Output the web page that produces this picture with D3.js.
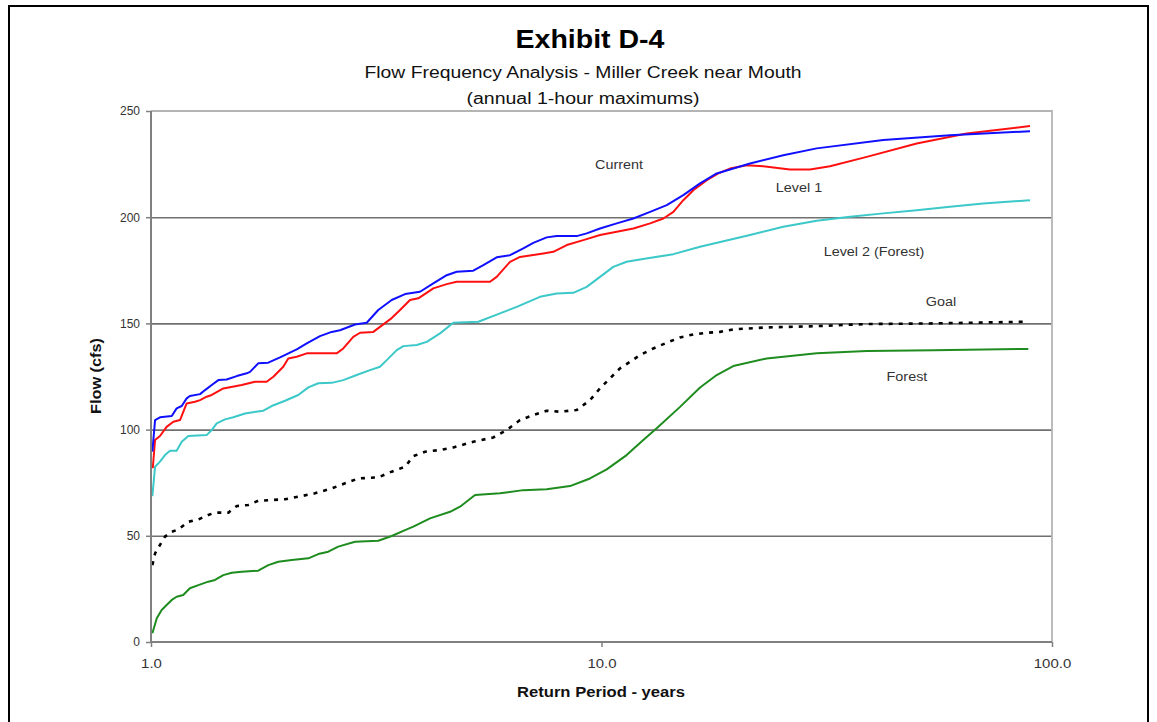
<!DOCTYPE html>
<html>
<head>
<meta charset="utf-8">
<script src="https://cdn.jsdelivr.net/npm/d3@7"></script>
<style>
    body { margin: 0; background: #fff; }
    svg { display: block; font-family: "Liberation Sans", Arial, sans-serif; }
</style>
</head>
<body>
<div id="chart"></div>
<script>
// Flow frequency data (return period in years, flow in cfs)
const currentT = [1.007, 1.021, 1.047, 1.112, 1.140, 1.170, 1.200, 1.220, 1.285, 1.318, 1.364, 1.411, 1.472, 1.550, 1.631, 1.659, 1.730, 1.821, 1.934, 2.106, 2.217, 2.372, 2.518, 2.627, 2.837, 3.012, 3.195, 3.422, 3.664, 3.955, 4.233, 4.533, 4.771, 5.193, 5.466, 5.853, 6.265, 6.706, 7.057, 7.555, 7.951, 8.810, 9.271, 9.924, 10.81, 11.77, 12.82, 13.96, 15.19, 16.55, 18.02, 21.36, 25.32, 30.04, 42.22, 59.38, 89.37];
const currentQ = [89.6, 104.5, 105.8, 106.4, 110.0, 111.1, 114.7, 115.8, 116.7, 118.6, 121.0, 123.3, 123.6, 125.2, 126.5, 127.2, 131.2, 131.5, 134.0, 137.8, 140.6, 144.0, 146.0, 146.8, 149.5, 150.3, 156.3, 161.0, 163.8, 164.9, 168.8, 172.7, 174.3, 174.8, 177.4, 181.1, 182.1, 185.3, 187.9, 190.5, 191.1, 191.1, 192.4, 194.7, 197.1, 199.4, 202.5, 205.7, 210.4, 215.9, 220.6, 225.3, 229.2, 232.4, 236.3, 238.6, 240.5];

const level1T = [1.009, 1.021, 1.047, 1.083, 1.121, 1.160, 1.200, 1.252, 1.285, 1.329, 1.364, 1.447, 1.590, 1.701, 1.806, 1.869, 1.966, 2.017, 2.106, 2.217, 2.583, 2.672, 2.812, 2.911, 3.115, 3.422, 3.571, 3.758, 3.921, 4.233, 4.533, 4.771, 5.656, 5.853, 6.265, 6.594, 7.425, 7.817, 8.373, 9.113, 9.924, 10.81, 11.77, 12.82, 13.72, 14.44, 15.19, 15.99, 17.13, 18.17, 19.28, 21.00, 22.86, 26.20, 29.03, 32.16, 38.80, 50.08, 64.67, 89.37];
const level1Q = [81.8, 95.1, 97.0, 101.3, 103.7, 104.5, 112.3, 113.1, 113.9, 115.5, 116.3, 119.4, 121.0, 122.5, 122.5, 124.9, 129.6, 133.5, 134.3, 135.9, 135.9, 138.2, 143.7, 145.6, 146.0, 152.5, 156.3, 161.0, 161.8, 166.5, 168.5, 169.6, 169.6, 171.9, 179.0, 181.3, 182.9, 183.7, 186.9, 189.2, 191.6, 193.1, 194.7, 197.1, 199.4, 202.5, 208.0, 212.7, 217.4, 220.6, 222.9, 224.5, 224.0, 222.5, 222.5, 224.0, 228.4, 234.7, 239.4, 242.9];

const level2T = [1.007, 1.021, 1.047, 1.074, 1.102, 1.140, 1.170, 1.210, 1.329, 1.364, 1.399, 1.460, 1.523, 1.617, 1.776, 1.853, 1.984, 2.123, 2.235, 2.351, 2.518, 2.672, 2.861, 3.063, 3.223, 3.336, 3.511, 3.632, 3.889, 4.093, 4.381, 4.689, 5.328, 5.953, 6.484, 7.302, 7.951, 8.658, 9.271, 9.924, 10.62, 11.37, 12.17, 14.44, 16.55, 21.36, 25.32, 30.04, 35.62, 42.22, 50.08, 59.38, 70.39, 89.37];
const level2Q = [68.7, 82.5, 84.9, 88.0, 90.0, 90.0, 94.3, 97.0, 97.4, 99.8, 102.9, 104.8, 105.8, 107.6, 108.9, 111.1, 113.6, 116.3, 119.9, 121.8, 122.0, 123.3, 125.7, 128.0, 129.6, 132.7, 137.4, 139.3, 139.8, 141.3, 145.3, 150.3, 150.8, 154.7, 157.8, 162.5, 164.1, 164.4, 167.2, 171.9, 176.6, 179.0, 180.1, 182.6, 186.1, 191.6, 195.5, 198.3, 200.2, 201.8, 203.3, 204.9, 206.5, 208.0];

const goalT = [1.007, 1.021, 1.047, 1.074, 1.112, 1.150, 1.210, 1.274, 1.340, 1.387, 1.485, 1.523, 1.550, 1.644, 1.730, 1.984, 2.123, 2.312, 2.518, 2.696, 2.885, 3.195, 3.422, 3.664, 3.822, 4.058, 4.381, 4.689, 5.193, 5.753, 6.160, 6.594, 7.057, 7.555, 8.087, 8.810, 9.429, 9.924, 10.44, 10.99, 11.57, 12.17, 13.03, 13.96, 14.94, 15.99, 17.13, 18.33, 19.61, 23.26, 30.04, 38.80, 54.52, 88.60];
const goalQ = [36.2, 41.7, 45.7, 49.6, 51.9, 53.0, 56.6, 57.7, 59.8, 60.9, 60.9, 62.9, 64.0, 64.5, 66.5, 67.2, 68.4, 70.0, 72.3, 74.7, 77.0, 77.5, 80.2, 82.5, 87.5, 89.6, 90.4, 91.6, 94.3, 96.3, 99.8, 104.5, 106.8, 108.9, 108.4, 109.2, 113.9, 119.4, 124.1, 128.8, 131.9, 135.1, 138.2, 140.9, 143.4, 144.8, 145.6, 146.0, 147.2, 148.1, 148.7, 149.7, 150.0, 150.8];

const forestT = [1.007, 1.030, 1.056, 1.083, 1.112, 1.140, 1.179, 1.220, 1.274, 1.340, 1.387, 1.447, 1.511, 1.590, 1.730, 1.821, 1.917, 2.053, 2.235, 2.351, 2.475, 2.604, 2.837, 3.195, 3.422, 3.664, 3.822, 4.163, 4.611, 4.852, 5.239, 5.953, 6.706, 7.555, 8.513, 9.429, 10.27, 11.37, 12.38, 13.26, 14.94, 16.55, 18.02, 19.61, 23.26, 30.04, 38.80, 54.52, 88.60];
const forestQ = [4.1, 11.2, 15.1, 17.4, 19.8, 21.3, 22.1, 25.3, 26.8, 28.4, 29.2, 31.5, 32.6, 33.1, 33.6, 36.2, 37.8, 38.6, 39.4, 41.4, 42.5, 44.9, 47.2, 47.7, 49.9, 52.7, 54.3, 58.2, 61.3, 63.7, 69.2, 70.0, 71.5, 71.9, 73.4, 77.0, 81.3, 88.0, 95.1, 100.6, 110.7, 119.8, 125.7, 129.9, 133.5, 135.9, 137.0, 137.4, 138.0];

const xTicks = [1, 10, 100];
const yTicks = [0, 50, 100, 150, 200, 250];

// Series labels placed inside the plot, as in the exhibit
const seriesNames = ['Current', 'Level 1', 'Level 2 (Forest)', 'Goal', 'Forest'];
const labelT = [10.94, 27.44, 40.26, 56.7, 47.65];
const labelQ = [222.6, 211.8, 181.7, 158.1, 122.8];

// the scanned exhibit is a little wider than the font, so stretch text to match
function stretch(sel, k) {
    sel.each(function() {
        const w = this.getComputedTextLength();
        d3.select(this)
            .attr('textLength', w * k)
            .attr('lengthAdjust', 'spacingAndGlyphs');
    });
}

function createFlowChart(containerId) {
    d3.select(`#${containerId}`).html('');

    const W = 1157, H = 722;
    const margin = {top: 111, right: 105, bottom: 80, left: 151};
    const width = W - margin.left - margin.right;
    const height = H - margin.top - margin.bottom;

    const root = d3.select(`#${containerId}`)
        .append('svg')
        .attr('width', W)
        .attr('height', H);

    // outer frame of the exhibit page
    root.append('path')
        .attr('d', `M9,${H} V6 H1148 V${H}`)
        .attr('fill', 'none')
        .attr('stroke', '#000')
        .attr('stroke-width', 2);

    // titles
    root.append('text')
        .attr('x', 590).attr('y', 48)
        .attr('text-anchor', 'middle')
        .attr('textLength', 149)
        .attr('lengthAdjust', 'spacingAndGlyphs')
        .style('font-size', '25px')
        .style('font-weight', 'bold')
        .style('fill', '#000')
        .text('Exhibit D-4');
    root.append('text')
        .attr('x', 583).attr('y', 78)
        .attr('text-anchor', 'middle')
        .attr('textLength', 437)
        .attr('lengthAdjust', 'spacingAndGlyphs')
        .style('font-size', '16px')
        .style('fill', '#111')
        .text('Flow Frequency Analysis - Miller Creek near Mouth');
    root.append('text')
        .attr('x', 583).attr('y', 104)
        .attr('text-anchor', 'middle')
        .attr('textLength', 233)
        .attr('lengthAdjust', 'spacingAndGlyphs')
        .style('font-size', '16px')
        .style('fill', '#111')
        .text('(annual 1-hour maximums)');

    const svg = root.append('g')
        .attr('transform', `translate(${margin.left},${margin.top})`);

    const x = d3.scaleLog()
        .domain([1, 100])
        .range([0, width]);

    const y = d3.scaleLinear()
        .domain([0, 250])
        .range([height, 0]);

    // horizontal grid lines
    svg.append('g')
        .attr('class', 'grid')
        .call(d3.axisLeft(y)
            .tickValues(yTicks.filter(d => d > 0 && d < 250))
            .tickSize(-width)
            .tickFormat(''))
        .call(g => g.select('.domain').remove())
        .selectAll('.tick line')
        .style('stroke', '#707070')
        .style('stroke-width', 1.6);

    // plot area border (top and right)
    svg.append('path')
        .attr('d', `M0,0 H${width} V${height}`)
        .attr('fill', 'none')
        .attr('stroke', '#b4b4b4')
        .attr('stroke-width', 1.8);

    // series lines
    const line = d3.line()
        .x(d => x(d[0]))
        .y(d => y(d[1]));

    const series = [
        {t: level2T, q: level2Q, color: '#3cc8c8', dash: null},
        {t: forestT, q: forestQ, color: '#1e8c1e', dash: null},
        {t: goalT, q: goalQ, color: '#000', dash: '4,6'},
        {t: level1T, q: level1Q, color: '#ff1010', dash: null},
        {t: currentT, q: currentQ, color: '#1010ff', dash: null}
    ];

    svg.selectAll('.series')
        .data(series)
        .enter()
        .append('path')
        .attr('class', 'series')
        .attr('d', s => line(s.t.map((t, i) => [t, s.q[i]])))
        .attr('fill', 'none')
        .attr('stroke', s => s.color)
        .attr('stroke-width', s => s.dash ? 2.6 : 2)
        .attr('stroke-dasharray', s => s.dash)
        .attr('stroke-linejoin', 'round');

    // left axis
    svg.append('g')
        .call(d3.axisLeft(y)
            .tickValues(yTicks)
            .tickSize(5)
            .tickPadding(6)
            .tickFormat(d3.format('d')))
        .call(g => g.select('.domain')
            .attr('d', `M0,${height}V0`)
            .style('stroke', '#808080')
            .style('stroke-width', 2))
        .call(g => g.selectAll('.tick line')
            .style('stroke', '#808080')
            .style('stroke-width', 1.5))
        .selectAll('text')
        .style('font-family', '"Liberation Sans", Arial, sans-serif')
        .style('font-size', '12px')
        .style('fill', '#333');

    // bottom axis
    svg.append('g')
        .attr('transform', `translate(0,${height})`)
        .call(d3.axisBottom(x)
            .tickValues(xTicks)
            .tickSize(5)
            .tickPadding(12)
            .tickFormat(d3.format('.1f')))
        .call(g => g.select('.domain')
            .attr('d', `M0,0H${width}`)
            .style('stroke', '#808080')
            .style('stroke-width', 2))
        .call(g => g.selectAll('.tick line')
            .style('stroke', '#808080')
            .style('stroke-width', 1.5))
        .selectAll('text')
        .style('font-family', '"Liberation Sans", Arial, sans-serif')
        .style('font-size', '13px')
        .style('fill', '#333')
        .call(stretch, 1.15);

    // axis titles
    svg.append('text')
        .attr('transform', 'rotate(-90)')
        .attr('x', -(376 - margin.top))
        .attr('y', 101 - margin.left)
        .attr('text-anchor', 'middle')
        .attr('textLength', 76)
        .attr('lengthAdjust', 'spacingAndGlyphs')
        .style('font-size', '14px')
        .style('font-weight', 'bold')
        .style('fill', '#111')
        .text('Flow (cfs)');

    svg.append('text')
        .attr('x', 601 - margin.left)
        .attr('y', 697 - margin.top)
        .attr('text-anchor', 'middle')
        .attr('textLength', 168)
        .attr('lengthAdjust', 'spacingAndGlyphs')
        .style('font-size', '14px')
        .style('font-weight', 'bold')
        .style('fill', '#111')
        .text('Return Period - years');

    // series labels
    svg.selectAll('.series-label')
        .data(seriesNames)
        .enter()
        .append('text')
        .attr('class', 'series-label')
        .attr('x', (d, i) => x(labelT[i]))
        .attr('y', (d, i) => y(labelQ[i]))
        .attr('text-anchor', 'middle')
        .style('font-size', '12.5px')
        .style('fill', '#333')
        .text(d => d)
        .call(stretch, 1.15);
}

createFlowChart('chart');
</script>
</body>
</html>
